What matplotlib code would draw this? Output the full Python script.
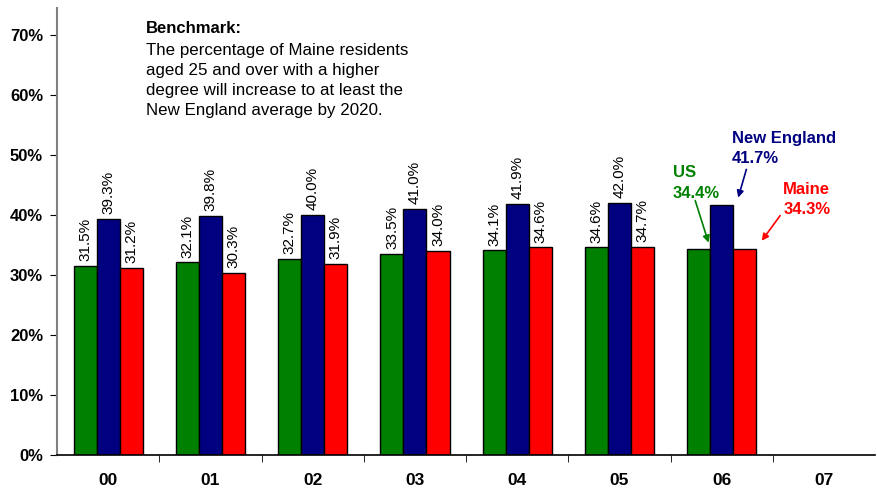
import numpy as np
import matplotlib
matplotlib.use("Agg")
import matplotlib.pyplot as plt

plt.rcParams['font.family'] = ['Liberation Sans', 'DejaVu Sans']

years = ["00", "01", "02", "03", "04", "05", "06", "07"]
us = [31.5, 32.1, 32.7, 33.5, 34.1, 34.6, 34.4, np.nan]
new_england = [39.3, 39.8, 40.0, 41.0, 41.9, 42.0, 41.7, np.nan]
maine = [31.2, 30.3, 31.9, 34.0, 34.6, 34.7, 34.3, np.nan]

fig = plt.figure(figsize=(8.77, 4.88), dpi=100)
ax = fig.add_axes([0.065, 0.0676, 0.933, 0.916])

x = np.arange(len(years))
w = 0.225
series = [(us, "#008000", -w), (new_england, "#000080", 0), (maine, "#ff0000", w)]
for vals, col, off in series:
    ax.bar(x + off, vals, w, color=col, edgecolor="black", linewidth=1, zorder=2)
    # rotated value labels for 00-05
    for i, v in enumerate(vals[:6]):
        ax.text(x[i] + off, v + 0.8, "%.1f%%" % v, rotation=90, ha="center", va="bottom",
                fontsize=11)

ax.set_xlim(-0.5, 7.5)
ax.set_ylim(0, 74.5)
ax.set_yticks(np.arange(0, 71, 10))
ax.set_yticklabels(["%d%%" % t for t in range(0, 71, 10)], fontsize=12, fontweight="bold")
ax.set_xticks(x)
ax.set_xticklabels(years, fontsize=12.5, fontweight="bold")
ax.tick_params(axis="x", length=0, pad=13)
ax.set_xticks(np.arange(0.5, 7.5, 1), minor=True)
ax.tick_params(axis="x", which="minor", length=5, direction="out")
ax.tick_params(axis="y", length=5, direction="out", pad=5)

for s in ["top", "right"]:
    ax.spines[s].set_visible(False)
ax.spines["left"].set_color("#808080")
ax.spines["left"].set_linewidth(1.5)
ax.spines["bottom"].set_linewidth(1.2)

ax.text(0.37, 72.4, "Benchmark:", fontsize=12, fontweight="bold", va="top")
ax.text(0.37, 68.6, "The percentage of Maine residents\naged 25 and over with a higher\n"
        "degree will increase to at least the\nNew England average by 2020.",
        fontsize=12.2, va="top", linespacing=1.4)

# callouts for 06
ax.text(5.52, 48.3, "US\n34.4%", color="#008000", fontsize=12, fontweight="bold",
        va="top", linespacing=1.45)
ax.text(6.10, 54.0, "New England\n41.7%", color="#000080", fontsize=12, fontweight="bold",
        va="top", linespacing=1.45)
ax.text(6.60, 45.5, "Maine\n34.3%", color="#ff0000", fontsize=12, fontweight="bold",
        va="top", linespacing=1.45)
arrows = [((5.74, 42.4), (5.87, 35.4), "#008000"),
          ((6.24, 47.6), (6.16, 42.9), "#000080"),
          ((6.57, 39.9), (6.39, 35.7), "#ff0000")]
for tail, head, col in arrows:
    ax.annotate("", xy=head, xytext=tail,
                arrowprops=dict(arrowstyle="-|>", color=col, lw=1.2,
                                shrinkA=0, shrinkB=0))

fig.savefig("out.png", dpi=100)
